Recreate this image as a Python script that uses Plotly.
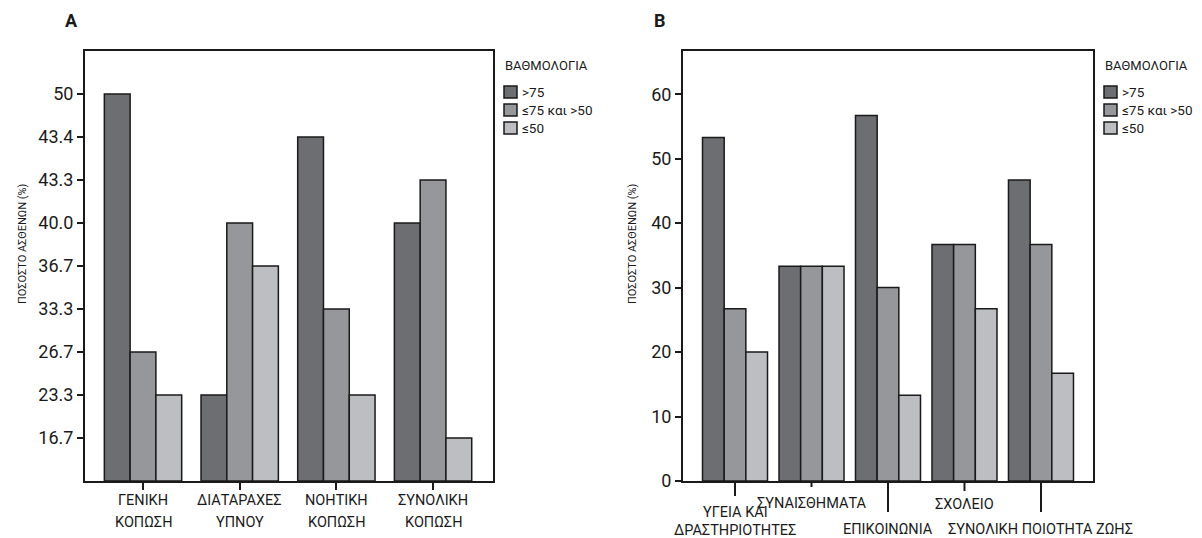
import plotly.graph_objects as go

# ---------------- data ----------------
groups = [">75", "≤75 και >50", "≤50"]
colors = ["#6d6e71", "#96979a", "#bdbec1"]

a_categories = ["ΓΕΝΙΚΗ<br>ΚΟΠΩΣΗ", "ΔΙΑΤΑΡΑΧΕΣ<br>ΥΠΝΟΥ", "ΝΟΗΤΙΚΗ<br>ΚΟΠΩΣΗ", "ΣΥΝΟΛΙΚΗ<br>ΚΟΠΩΣΗ"]
a_high = [50, 23.3, 43.4, 40.0]
a_mid = [26.7, 40.0, 33.3, 43.3]
a_low = [23.3, 36.7, 23.3, 16.7]
a_tick_labels = ["16.7", "23.3", "26.7", "33.3", "36.7", "40.0", "43.3", "43.4", "50"]

b_categories = ["ΥΓΕΙΑ ΚΑΙ<br>ΔΡΑΣΤΗΡΙΟΤΗΤΕΣ", "ΣΥΝΑΙΣΘΗΜΑΤΑ", "ΕΠΙΚΟΙΝΩΝΙΑ", "ΣΧΟΛΕΙΟ", "ΣΥΝΟΛΙΚΗ ΠΟΙΟΤΗΤΑ ΖΩΗΣ"]
b_high = [53.3, 33.3, 56.7, 36.7, 46.7]
b_mid = [26.7, 33.3, 30.0, 36.7, 36.7]
b_low = [20.0, 33.3, 13.3, 26.7, 16.7]
b_tick_values = [0, 10, 20, 30, 40, 50, 60]

# ---------------- styling ----------------
W, H = 1202, 538
M_T, M_B = 51, 57
PH = H - M_T - M_B            # plot height in px
FONT = "Roboto, Liberation Sans, Arial, sans-serif"
INK = "#1a1a1a"

A_LEFT, A_RIGHT = 85, 493
B_LEFT, B_RIGHT = 683, 1093


def py(px):
    """figure pixel row -> paper y"""
    return (H - M_B - px) / PH


# Panel A uses an ordinal (equally spaced) axis labelled with the values
a_level = {float(t): i + 1 for i, t in enumerate(a_tick_labels)}

fig = go.Figure()
a_w = 0.8 / 3
for i, (name, vals, col) in enumerate(zip(groups, [a_high, a_mid, a_low], colors)):
    fig.add_trace(go.Bar(
        x=a_categories, y=[a_level[float(v)] for v in vals],
        customdata=vals, hovertemplate="%{customdata}<extra>" + name + "</extra>",
        name=name, width=a_w, offset=-1.5 * a_w + i * a_w,
        marker=dict(color=col, line=dict(color=INK, width=1.5)),
        xaxis="x", yaxis="y", showlegend=False))
b_w = 0.85 / 3
for i, (name, vals, col) in enumerate(zip(groups, [b_high, b_mid, b_low], colors)):
    fig.add_trace(go.Bar(
        x=b_categories, y=vals, name=name, width=b_w, offset=-1.5 * b_w + i * b_w,
        marker=dict(color=col, line=dict(color=INK, width=1.5)),
        xaxis="x2", yaxis="y2", showlegend=False))

axis_common = dict(showline=True, linecolor=INK, linewidth=2, mirror=True,
                   showgrid=False, zeroline=False)
tickfont = dict(family=FONT, size=18, color=INK)

fig.update_layout(
    width=W, height=H,
    margin=dict(l=0, r=0, t=M_T, b=M_B),
    plot_bgcolor="white", paper_bgcolor="white",
    barmode="overlay",
    xaxis=dict(domain=[A_LEFT / W, A_RIGHT / W], type="category", range=[-0.6, 3.62],
               ticks="outside", ticklen=7, tickwidth=2, tickcolor=INK,
               showticklabels=False, **axis_common),
    yaxis=dict(domain=[0, 1], range=[0, 10], tickvals=list(range(1, len(a_tick_labels) + 1)),
               ticktext=a_tick_labels, ticks="outside", ticklen=6, tickwidth=1.5,
               tickcolor=INK, tickfont=tickfont, **axis_common),
    xaxis2=dict(domain=[B_LEFT / W, B_RIGHT / W], type="category", range=[-0.68, 4.68],
                ticks="", showticklabels=False, anchor="y2", **axis_common),
    yaxis2=dict(domain=[0, 1], range=[0, 66.7], tickvals=b_tick_values, anchor="x2",
                ticks="outside", ticklen=6, tickwidth=1.5, tickcolor=INK,
                tickfont=tickfont, **axis_common),
)

annotations = []
shapes = []

# panel labels
for lab, xp in [("A", 63), ("B", 652)]:
    annotations.append(dict(text="<b>" + lab + "</b>", x=xp / W, y=py(20), xref="paper",
                            yref="paper", showarrow=False, xanchor="left", yanchor="middle",
                            font=dict(family=FONT, size=18, color=INK)))

# y axis titles
for xp in [22, 632]:
    annotations.append(dict(text="ΠΟΣΟΣΤΟ ΑΣΘΕΝΩΝ (%)", x=xp / W, y=py(244), xref="paper",
                            yref="paper", textangle=-90, showarrow=False,
                            xanchor="center", yanchor="middle",
                            font=dict(family=FONT, size=11, color=INK)))

# panel A category labels (two lines each)
a_line_rows = [500, 522]
for c in a_categories:
    for line, row in zip(c.split("<br>"), a_line_rows):
        annotations.append(dict(text=line, x=c, xref="x", y=py(row), yref="paper",
                                yanchor="middle", showarrow=False,
                                font=dict(family=FONT, size=14.5, color=INK)))

# panel B staggered ticks and labels
b_tick_len = [15, 6, 31, 10, 31]
b_label_rows = [[512, 530], [503], [529], [504], [529]]
for c, tl, rows in zip(b_categories, b_tick_len, b_label_rows):
    shapes.append(dict(type="line", xref="x2", yref="paper", x0=c, x1=c,
                       y0=0, y1=py(H - M_B + tl), line=dict(color=INK, width=2)))
    for line, row in zip(c.split("<br>"), rows):
        annotations.append(dict(text=line, x=c, xref="x2", y=py(row), yref="paper",
                                yanchor="middle", showarrow=False,
                                font=dict(family=FONT, size=14.5, color=INK)))

# legends (one per panel)
item_rows = [92, 110, 128]
for right in [A_RIGHT, B_RIGHT]:
    x0 = right + 10
    annotations.append(dict(text="ΒΑΘΜΟΛΟΓΙΑ", x=x0 / W, y=py(66), xref="paper", yref="paper",
                            xanchor="left", yanchor="middle", showarrow=False,
                            font=dict(family=FONT, size=13, color=INK)))
    for name, col, row in zip(groups, colors, item_rows):
        shapes.append(dict(type="rect", xref="paper", yref="paper",
                           x0=(x0 + 1) / W, x1=(x0 + 14) / W, y0=py(row + 6), y1=py(row - 6),
                           fillcolor=col, line=dict(color=INK, width=1.5)))
        annotations.append(dict(text=name, x=(x0 + 17) / W, y=py(row), xref="paper",
                                yref="paper", xanchor="left", yanchor="middle",
                                showarrow=False, font=dict(family=FONT, size=13.5, color=INK)))

fig.update_layout(annotations=annotations, shapes=shapes)
fig.write_html("out.html")
